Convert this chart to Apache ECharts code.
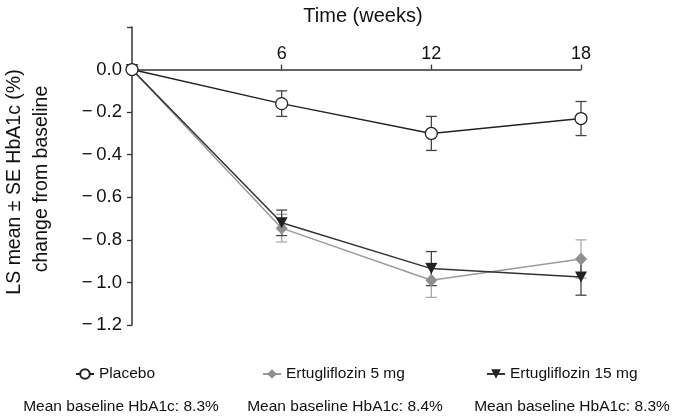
<!DOCTYPE html>
<html>
<head>
<meta charset="utf-8">
<script src="https://cdn.jsdelivr.net/npm/echarts@6/dist/echarts.min.js"></script>
<style>html,body{margin:0;padding:0;background:#fff;}#c{width:685px;height:416px;}</style>
</head>
<body>
<div id="c"></div>
<script>
var weeks = [0, 6, 12, 18];
var placeboMean = [0, -0.16, -0.30, -0.23];
var placeboSE   = [0, 0.06, 0.08, 0.08];
var ertu5Mean   = [0, -0.745, -0.99, -0.89];
var ertu5SE     = [0, 0.065, 0.08, 0.09];
var ertu15Mean  = [0, -0.72, -0.935, -0.975];
var ertu15SE    = [0, 0.06, 0.08, 0.085];
var seriesNames = ['Placebo', 'Ertugliflozin 5 mg', 'Ertugliflozin 15 mg'];
var baselineTexts = ['Mean baseline HbA1c: 8.3%', 'Mean baseline HbA1c: 8.4%', 'Mean baseline HbA1c: 8.3%'];
var yTitle = ['LS mean \u00b1 SE HbA1c (%)', 'change from baseline'];
var xTitle = 'Time (weeks)';

var FONT = 'Liberation Sans, Arial, sans-serif';

function pts(mean) { return weeks.map(function (w, i) { return [w, mean[i]]; }); }
function errs(mean, se) {
  var out = [];
  weeks.forEach(function (w, i) { if (se[i] > 0) out.push([w, mean[i] - se[i], mean[i] + se[i]]); });
  return out;
}
function errSeries(mean, se, color, z) {
  return {
    type: 'custom', z: z, silent: true,
    data: errs(mean, se),
    renderItem: function (params, api) {
      var lo = api.coord([api.value(0), api.value(1)]);
      var hi = api.coord([api.value(0), api.value(2)]);
      var w = 5.5;
      var st = { stroke: color, lineWidth: 1.3 };
      return { type: 'group', children: [
        { type: 'line', shape: { x1: lo[0], y1: lo[1], x2: hi[0], y2: hi[1] }, style: st },
        { type: 'line', shape: { x1: lo[0] - w, y1: lo[1], x2: lo[0] + w, y2: lo[1] }, style: st },
        { type: 'line', shape: { x1: hi[0] - w, y1: hi[1], x2: hi[0] + w, y2: hi[1] }, style: st }
      ]};
    }
  };
}

var chart = echarts.init(document.getElementById('c'), null, { renderer: 'canvas' });
var legendBase = { top: 366, padding: 0, itemWidth: 18, itemHeight: 12, itemGap: 0,
  textStyle: { fontFamily: FONT, fontSize: 15.5, color: '#111' } };
chart.setOption({
  animation: false,
  backgroundColor: '#fff',
  textStyle: { fontFamily: FONT },
  grid: { left: 132, right: 104, top: 27, height: 298 },
  legend: [
    Object.assign({}, legendBase, { left: 75, data: [seriesNames[0]] }),
    Object.assign({}, legendBase, { left: 262, data: [seriesNames[1]] }),
    Object.assign({}, legendBase, { left: 486, data: [seriesNames[2]] })
  ],
  xAxis: {
    type: 'value', min: 0, max: 18, interval: 6, position: 'top',
    axisLine: { onZero: true, lineStyle: { color: '#333', width: 1.5 } },
    axisTick: { show: true, length: 5, lineStyle: { color: '#333', width: 1.3 } },
    axisLabel: { fontSize: 18, color: '#111', margin: -36, fontFamily: FONT,
      formatter: function (v) { return v === 0 ? '' : String(v); } },
    splitLine: { show: false }
  },
  yAxis: {
    type: 'value', min: -1.2, max: 0.2, interval: 0.2,
    axisLine: { show: true, onZero: false, lineStyle: { color: '#333', width: 1.5 } },
    axisTick: { show: true, length: 5, lineStyle: { color: '#333', width: 1.3 } },
    axisLabel: { fontSize: 18.5, color: '#111', margin: 10, fontFamily: FONT,
      formatter: function (v) {
        if (v > 0.05) return '';
        var s = Math.abs(v).toFixed(1);
        return (v < -0.05 ? '\u2212\u2009' : '') + s;
      } },
    splitLine: { show: false }
  },
  graphic: [
    { type: 'text', x: 363, y: 16, style: { text: xTitle, fontFamily: FONT, fontSize: 20, fill: '#111', textAlign: 'center', textVerticalAlign: 'middle' } },
    { type: 'text', x: 15, y: 182, rotation: Math.PI / 2, style: { text: yTitle[0], fontFamily: FONT, fontSize: 19.5, fill: '#111', textAlign: 'center', textVerticalAlign: 'middle' } },
    { type: 'text', x: 42, y: 179, rotation: Math.PI / 2, style: { text: yTitle[1], fontFamily: FONT, fontSize: 19.5, fill: '#111', textAlign: 'center', textVerticalAlign: 'middle' } },
    { type: 'text', x: 121, y: 407, style: { text: baselineTexts[0], fontFamily: FONT, fontSize: 15.5, fill: '#111', textAlign: 'center', textVerticalAlign: 'middle' } },
    { type: 'text', x: 345, y: 407, style: { text: baselineTexts[1], fontFamily: FONT, fontSize: 15.5, fill: '#111', textAlign: 'center', textVerticalAlign: 'middle' } },
    { type: 'text', x: 572, y: 407, style: { text: baselineTexts[2], fontFamily: FONT, fontSize: 15.5, fill: '#111', textAlign: 'center', textVerticalAlign: 'middle' } }
  ],
  series: [
    errSeries(ertu5Mean, ertu5SE, '#aaaaaa', 2),
    errSeries(ertu15Mean, ertu15SE, '#444444', 3),
    errSeries(placeboMean, placeboSE, '#444444', 3),
    { name: seriesNames[1], type: 'line', z: 4, data: pts(ertu5Mean),
      symbol: 'diamond', symbolSize: [12, 13],
      lineStyle: { color: '#9a9a9a', width: 1.5 },
      itemStyle: { color: '#8f8f8f', borderColor: '#8f8f8f', borderWidth: 0 } },
    { name: seriesNames[2], type: 'line', z: 5, data: pts(ertu15Mean),
      symbol: 'triangle', symbolSize: [12, 11], symbolRotate: 180,
      lineStyle: { color: '#333333', width: 1.5 },
      itemStyle: { color: '#222222', borderColor: '#222222', borderWidth: 0 } },
    { name: seriesNames[0], type: 'line', z: 6, data: pts(placeboMean),
      symbol: 'circle', symbolSize: 12,
      lineStyle: { color: '#222222', width: 1.5 },
      itemStyle: { color: '#ffffff', borderColor: '#222222', borderWidth: 1.3 } }
  ]
});
</script>
</body>
</html>
